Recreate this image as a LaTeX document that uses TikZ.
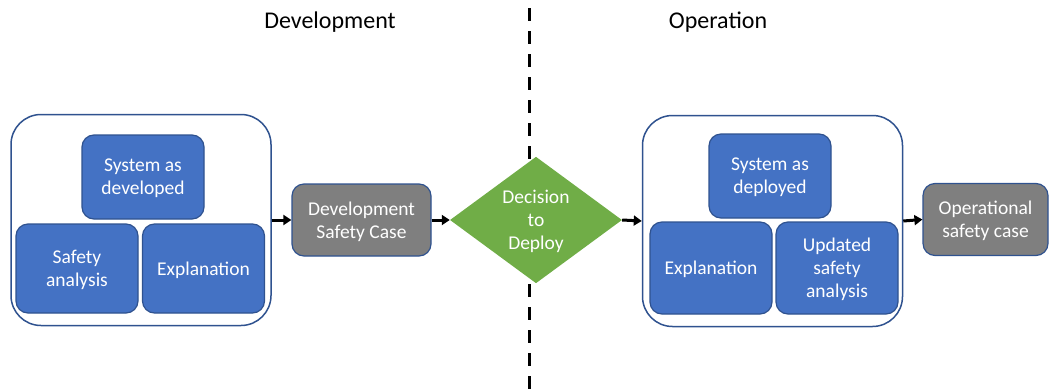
\documentclass[tikz,border=0pt]{standalone}
\usepackage{fontspec}
\setmainfont{Carlito}
\usetikzlibrary{shapes.geometric,arrows.meta}

\definecolor{boxblue}{HTML}{4472C4}
\definecolor{edgeblue}{HTML}{2F528F}
\definecolor{casegrey}{HTML}{7F7F7F}
\definecolor{deploygreen}{HTML}{70AD47}

\begin{document}
\begin{tikzpicture}[x=1pt, y=-1pt,
        group/.style={draw=edgeblue, line width=1.5pt, fill=white, rounded corners=30pt,
            minimum width=260pt, minimum height=211pt, inner sep=0pt},
        part/.style={draw=edgeblue, line width=1.2pt, fill=boxblue, rounded corners=12pt,
            text=white, align=center, inner sep=0pt, minimum width=122pt, text depth=0pt,
            font=\fontsize{19.5}{23}\selectfont},
        casebox/.style={part, fill=casegrey, minimum height=72pt},
        flow/.style={line width=3pt, -{Triangle[length=8pt, width=10pt]}},
        title/.style={font=\fontsize{24}{28}\selectfont}]

        \useasboundingbox (0,0) rectangle (1049,391);

        % Phase titles
        \node[title] (titleDev) at (330,22) {Development};
        \node[title] (titleOp) at (718,22) {Operation};

        % Dashed separator
        \coordinate (sepTop) at (529,8);
        \coordinate (sepBot) at (529,391);
        \draw[line width=3pt, dash pattern=on 13pt off 10pt] (sepTop) -- (sepBot);

        % Development side
        \node[group] (contDev) at (141,220) {};
        \node[part, minimum height=84pt] (sysDev) at (143,177) {System as\\developed};
        \node[part, minimum height=89pt] (safetyDev) at (77,268.5) {Safety\\analysis};
        \node[part, minimum height=89pt] (explDev) at (203.5,268.5) {Explanation};
        \node[casebox, minimum width=139pt] (devCase) at (361.5,220) {Development\\Safety Case};

        % Decision
        \node[diamond, fill=deploygreen, text=white, align=center, inner sep=0pt,
            minimum width=172pt, minimum height=122pt, text depth=0pt,
            font=\fontsize{19.5}{23}\selectfont] (decide) at (536,220) {Decision\\to\\Deploy};

        % Operation side
        \node[group] (contOp) at (772.5,221) {};
        \node[part, minimum height=84pt] (sysOp) at (770,176) {System as\\deployed};
        \node[part, minimum height=92pt] (explOp) at (711,268) {Explanation};
        \node[part, minimum height=92pt] (updOp) at (837,268) {Updated\\safety\\analysis};
        \node[casebox, minimum width=125pt] (opCase) at (985.5,219.5) {Operational\\safety case};

        % Arrows
        \draw[flow] (contDev.east) -- (devCase.west);
        \draw[flow] (devCase.east) -- (decide.west);
        \draw[flow] (decide.east) -- (contOp.west);
        \draw[flow] (contOp.east) -- (opCase.west);
    \end{tikzpicture}
\end{document}
